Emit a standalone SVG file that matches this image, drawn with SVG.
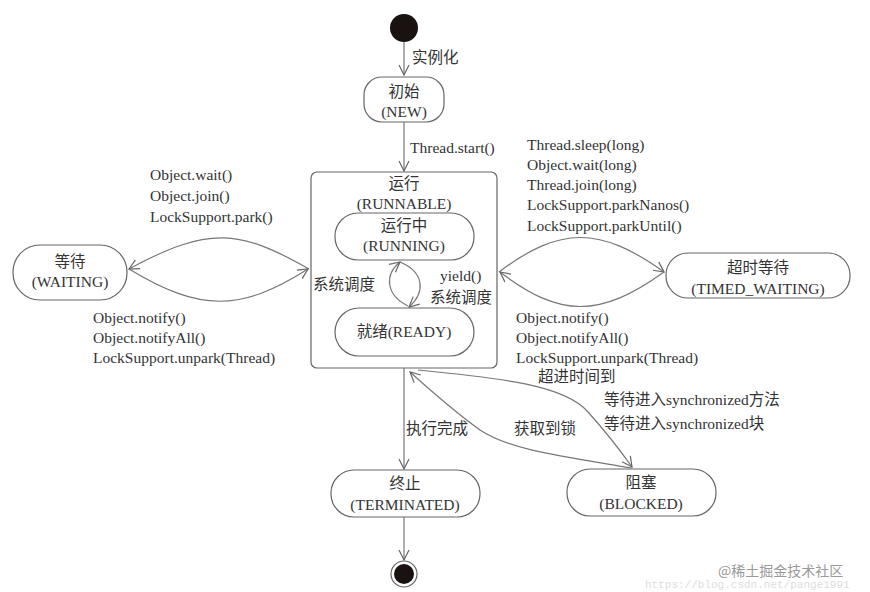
<svg xmlns="http://www.w3.org/2000/svg" width="870" height="592" viewBox="0 0 870 592">
<style>
text{font-family:"Liberation Serif","Noto Sans CJK SC",serif;font-size:15.5px;fill:#333}
.c{text-anchor:middle}
.node{fill:#fff;stroke:#666;stroke-width:1.2}
.edge{fill:none;stroke:#777;stroke-width:1.2}
.wm{font-family:"Liberation Mono",monospace;font-size:11px;fill:#ddd}
</style>
<defs>
<marker id="a" viewBox="0 0 12 12" refX="11" refY="6" markerWidth="12" markerHeight="12" markerUnits="userSpaceOnUse" orient="auto">
<path d="M1,1 L11,6 L1,11" fill="none" stroke="#666" stroke-width="1.2"/>
</marker>
</defs>
<rect width="870" height="592" fill="#fff"/>
<g id="start"><circle cx="404" cy="28" r="14" fill="#1a1111"/></g>
<g id="new"><rect class="node" x="364" y="77" width="80" height="45" rx="18"/><text class="c" x="404" y="97">初始</text><text class="c" x="404" y="117">(NEW)</text></g>
<g id="runnable"><rect class="node" x="311" y="172" width="186" height="196" rx="6"/><text class="c" x="404" y="189">运行</text><text class="c" x="404" y="209">(RUNNABLE)</text></g>
<g id="running"><rect class="node" x="335" y="213" width="139" height="47" rx="23"/><text class="c" x="404" y="231">运行中</text><text class="c" x="404" y="251">(RUNNING)</text></g>
<g id="ready"><rect class="node" x="335" y="308" width="139" height="48" rx="24"/><text class="c" x="404" y="337">就绪(READY)</text></g>
<g id="waiting"><rect class="node" x="13" y="245" width="114" height="55" rx="27"/><text class="c" x="70" y="267">等待</text><text class="c" x="70" y="287">(WAITING)</text></g>
<g id="timed"><rect class="node" x="666" y="253" width="184" height="45" rx="22"/><text class="c" x="758" y="273">超时等待</text><text class="c" x="758" y="294">(TIMED_WAITING)</text></g>
<g id="terminated"><rect class="node" x="331" y="470" width="149" height="47" rx="23"/><text class="c" x="405" y="489">终止</text><text class="c" x="405" y="510">(TERMINATED)</text></g>
<g id="blocked"><rect class="node" x="567" y="469" width="149" height="47" rx="23"/><text class="c" x="641" y="488">阻塞</text><text class="c" x="641" y="509">(BLOCKED)</text></g>
<g id="end"><circle cx="404" cy="574" r="13" fill="#fff" stroke="#666" stroke-width="1.2"/><circle cx="404" cy="574" r="10" fill="#1a1111"/></g>
<g id="connectors">
<path class="edge" d="M404,42 V75" marker-end="url(#a)"/>
<path class="edge" d="M404,122 V171" marker-end="url(#a)"/>
<path class="edge" d="M408,306 C386,295 384,275 400,262" marker-end="url(#a)"/>
<path class="edge" d="M400,262 C424,272 426,292 409,307" marker-end="url(#a)"/>
<path class="edge" d="M309,269 C240,230 210,225 129,269" marker-end="url(#a)"/>
<path class="edge" d="M129,269 C200,312 240,312 308,269" marker-end="url(#a)"/>
<path class="edge" d="M499,272 C560,226 600,226 664,272" marker-end="url(#a)"/>
<path class="edge" d="M664,272 C600,318 560,318 500,272" marker-end="url(#a)"/>
<path class="edge" d="M404,368 V469" marker-end="url(#a)"/>
<path class="edge" d="M404,517 V560" marker-end="url(#a)"/>
<path class="edge" d="M632,468 C560,456 510,450 480,430 C455,412 430,390 410,372" marker-end="url(#a)"/>
<path class="edge" d="M418,370 C500,378 565,385 588,412 C606,432 620,450 632,467" marker-end="url(#a)"/>
</g>
<g id="labels">
<text x="412" y="63">实例化</text>
<text x="410" y="153">Thread.start()</text>
<text x="313" y="290">系统调度</text>
<text x="440" y="281">yield()</text>
<text x="430" y="303">系统调度</text>
<text x="150" y="180">Object.wait()</text>
<text x="150" y="201">Object.join()</text>
<text x="150" y="222">LockSupport.park()</text>
<text x="93" y="323">Object.notify()</text>
<text x="93" y="343">Object.notifyAll()</text>
<text x="93" y="363">LockSupport.unpark(Thread)</text>
<text x="527" y="150">Thread.sleep(long)</text>
<text x="527" y="170">Object.wait(long)</text>
<text x="527" y="190">Thread.join(long)</text>
<text x="527" y="210">LockSupport.parkNanos()</text>
<text x="527" y="231">LockSupport.parkUntil()</text>
<text x="516" y="323">Object.notify()</text>
<text x="516" y="343">Object.notifyAll()</text>
<text x="516" y="363">LockSupport.unpark(Thread)</text>
<text x="538" y="382">超进时间到</text>
<text x="604" y="405">等待进入synchronized方法</text>
<text x="604" y="429">等待进入synchronized块</text>
<text x="406" y="434">执行完成</text>
<text x="514" y="434">获取到锁</text>
<text class="wm" x="645" y="588">https://blog.csdn.net/pange1991</text>
<text x="718" y="576" style="font-family:'Noto Sans CJK SC',sans-serif;font-size:14px;fill:#999">@稀土掘金技术社区</text>
</g>
</svg>
